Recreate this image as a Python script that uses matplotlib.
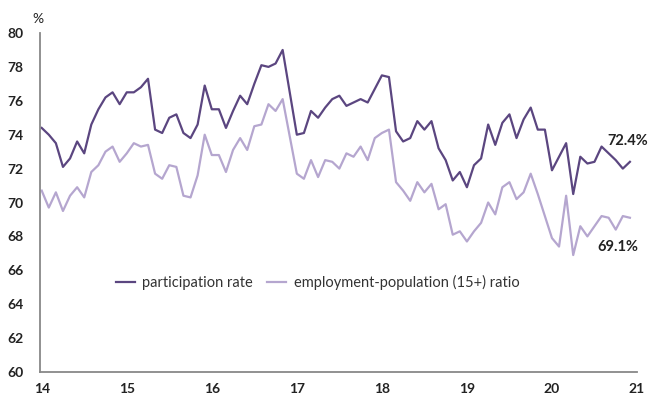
import matplotlib
matplotlib.use("Agg")
import matplotlib.pyplot as plt
import numpy as np

plt.rcParams['font.family'] = ['Lato', 'DejaVu Sans']

# monthly, Jan 2014 .. Dec 2020
participation = [
    74.4, 74.0, 73.5, 72.1, 72.6, 73.6, 72.9, 74.6, 75.5, 76.2, 76.5, 75.8,
    76.5, 76.5, 76.8, 77.3, 74.3, 74.1, 75.0, 75.2, 74.1, 73.8, 74.6, 76.9,
    75.5, 75.5, 74.4, 75.4, 76.3, 75.8, 77.0, 78.1, 78.0, 78.2, 79.0, 76.5,
    74.0, 74.1, 75.4, 75.0, 75.6, 76.1, 76.3, 75.7, 75.9, 76.1, 75.9, 76.7,
    77.5, 77.4, 74.2, 73.6, 73.8, 74.8, 74.3, 74.8, 73.2, 72.5, 71.3, 71.8,
    70.9, 72.2, 72.6, 74.6, 73.4, 74.7, 75.2, 73.8, 74.9, 75.6, 74.3, 74.3,
    71.9, 72.7, 73.5, 70.5, 72.7, 72.3, 72.4, 73.3, 72.9, 72.5, 72.0, 72.4,
]
employment = [
    70.7, 69.7, 70.6, 69.5, 70.4, 70.9, 70.3, 71.8, 72.2, 73.0, 73.3, 72.4,
    72.9, 73.5, 73.3, 73.4, 71.7, 71.4, 72.2, 72.1, 70.4, 70.3, 71.6, 74.0,
    72.8, 72.8, 71.8, 73.1, 73.8, 73.1, 74.5, 74.6, 75.8, 75.4, 76.1, 73.9,
    71.7, 71.4, 72.5, 71.5, 72.5, 72.4, 72.0, 72.9, 72.7, 73.3, 72.5, 73.8,
    74.1, 74.3, 71.2, 70.7, 70.1, 71.2, 70.6, 71.1, 69.6, 69.9, 68.1, 68.3,
    67.7, 68.3, 68.8, 70.0, 69.3, 70.9, 71.2, 70.2, 70.6, 71.7, 70.5, 69.2,
    67.9, 67.4, 70.4, 66.9, 68.6, 68.0, 68.6, 69.2, 69.1, 68.4, 69.2, 69.1,
]
years = [2014, 2015, 2016, 2017, 2018, 2019, 2020, 2021]
t = 2014 + np.arange(len(participation)) / 12

dark = '#5b4680'
light = '#b5a6cf'

fig = plt.figure(figsize=(6.67, 4.05), dpi=100)
ax = fig.add_axes([40 / 667, 33 / 405, 597 / 667, 339 / 405])

ax.plot(t, participation, color=dark, lw=1.6, label='participation rate')
ax.plot(t, employment, color=light, lw=1.6, label='employment-population (15+) ratio')

ax.set_xlim(2013.98, 2021)
ax.set_ylim(60, 80)
ax.set_yticks(range(60, 81, 2))
ax.set_xticks(years)
ax.set_xticklabels([str(y % 100) for y in years])
ax.tick_params(length=0, labelsize=10, colors='#222222', pad=8)
for lab in ax.get_xticklabels() + ax.get_yticklabels():
    lab.set_fontweight('bold')
ax.tick_params(axis='y', pad=12)

for s in ['top', 'right']:
    ax.spines[s].set_visible(False)
for s in ['left', 'bottom']:
    ax.spines[s].set_color('#888888')
    ax.spines[s].set_linewidth(1.3)

ax.text(-0.013, 1.025, '%', transform=ax.transAxes, fontsize=10, color='#222222',
        ha='left', va='bottom')

ax.text(2020.65, 73.6, f'{participation[-1]}%', fontsize=10.5, fontweight='bold',
        color='#222222', va='center')
ax.text(2020.53, 67.4, f'{employment[-1]}%', fontsize=10.5, fontweight='bold',
        color='#222222', va='center')

ax.legend(loc='center', bbox_to_anchor=(0.465, 0.263), ncol=2, frameon=False,
          fontsize=10.5, handlelength=1.3, handletextpad=0.5, columnspacing=1.0,
          labelcolor='#333333')

fig.savefig('out.png', dpi=100)
